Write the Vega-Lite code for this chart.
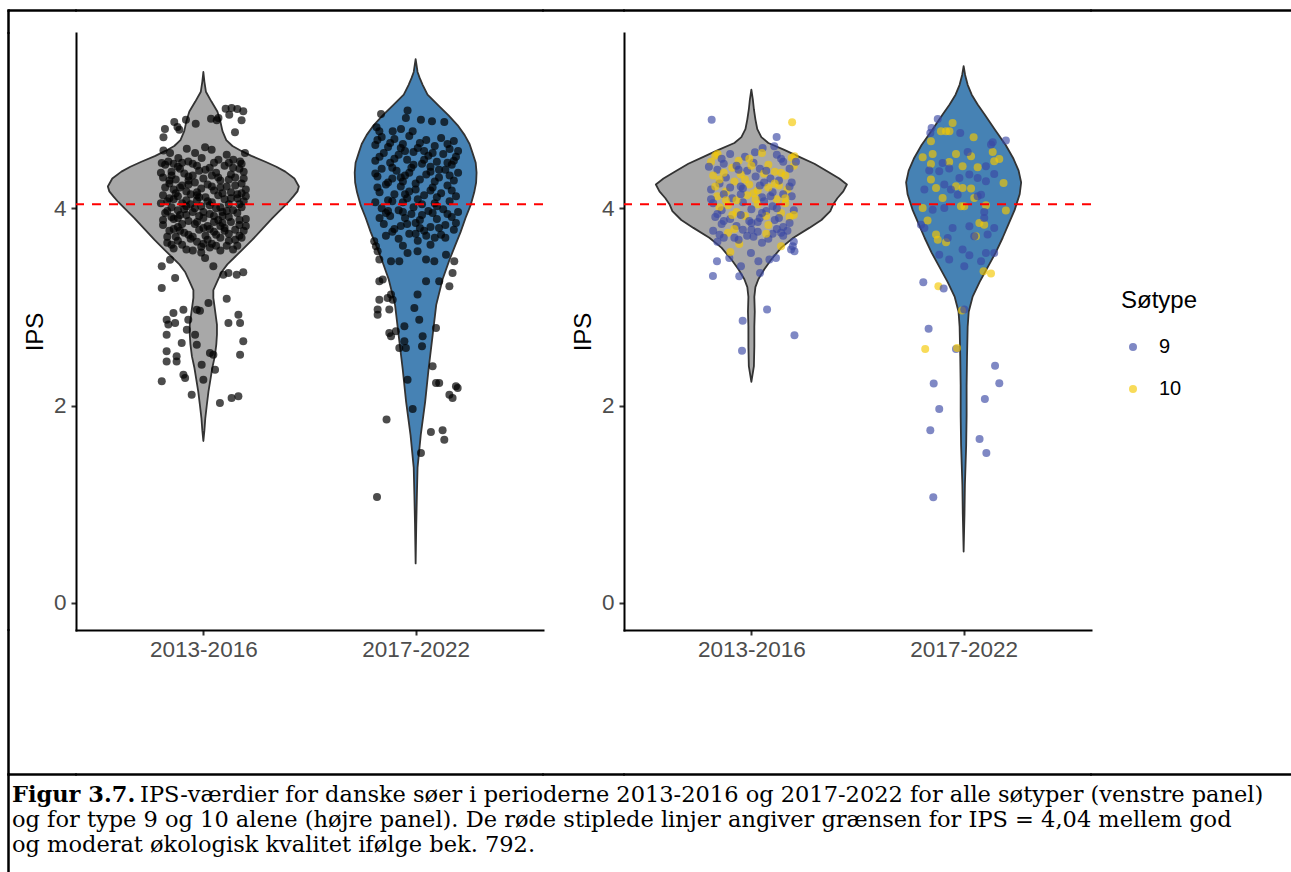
{
  "$schema": "https://vega.github.io/schema/vega-lite/v6.json",
  "background": "white",
  "padding": {"left": 7, "top": 9, "right": 0, "bottom": 0},
  "config": {
    "view": {"stroke": null},
    "font": "Liberation Sans",
    "axis": {
      "grid": false,
      "domainColor": "black",
      "domainWidth": 2,
      "domainCap": "square",
      "tickColor": "#333333",
      "tickWidth": 2,
      "tickSize": 5,
      "labelColor": "#4D4D4D",
      "labelFont": "Liberation Sans",
      "labelFontSize": 22.5,
      "labelFlush": false,
      "labelOverlap": false,
      "titleFont": "Liberation Sans",
      "titleFontSize": 24,
      "titleFontWeight": "normal",
      "titleColor": "black"
    },
    "title": {
      "font": "DejaVu Serif",
      "fontSize": 22.5,
      "color": "black",
      "subtitleFont": "DejaVu Serif",
      "subtitleFontSize": 22.5,
      "subtitleColor": "black",
      "subtitleLineHeight": 25
    }
  },
  "datasets": {
    "violiner": [
      {"panel": "alle", "periode": "2013-2016", "IPS": 5.38, "lo": 1, "hi": 1},
      {"panel": "alle", "periode": "2013-2016", "IPS": 5.28, "lo": 0.995, "hi": 1.005},
      {"panel": "alle", "periode": "2013-2016", "IPS": 5.18, "lo": 0.988, "hi": 1.012},
      {"panel": "alle", "periode": "2013-2016", "IPS": 5.08, "lo": 0.962, "hi": 1.038},
      {"panel": "alle", "periode": "2013-2016", "IPS": 4.98, "lo": 0.934, "hi": 1.066},
      {"panel": "alle", "periode": "2013-2016", "IPS": 4.88, "lo": 0.92, "hi": 1.08},
      {"panel": "alle", "periode": "2013-2016", "IPS": 4.78, "lo": 0.91, "hi": 1.09},
      {"panel": "alle", "periode": "2013-2016", "IPS": 4.69, "lo": 0.892, "hi": 1.108},
      {"panel": "alle", "periode": "2013-2016", "IPS": 4.63, "lo": 0.863, "hi": 1.137},
      {"panel": "alle", "periode": "2013-2016", "IPS": 4.58, "lo": 0.821, "hi": 1.179},
      {"panel": "alle", "periode": "2013-2016", "IPS": 4.53, "lo": 0.774, "hi": 1.226},
      {"panel": "alle", "periode": "2013-2016", "IPS": 4.47, "lo": 0.708, "hi": 1.292},
      {"panel": "alle", "periode": "2013-2016", "IPS": 4.42, "lo": 0.656, "hi": 1.344},
      {"panel": "alle", "periode": "2013-2016", "IPS": 4.37, "lo": 0.614, "hi": 1.386},
      {"panel": "alle", "periode": "2013-2016", "IPS": 4.30, "lo": 0.571, "hi": 1.429},
      {"panel": "alle", "periode": "2013-2016", "IPS": 4.22, "lo": 0.55, "hi": 1.45},
      {"panel": "alle", "periode": "2013-2016", "IPS": 4.17, "lo": 0.557, "hi": 1.443},
      {"panel": "alle", "periode": "2013-2016", "IPS": 4.12, "lo": 0.576, "hi": 1.424},
      {"panel": "alle", "periode": "2013-2016", "IPS": 4.06, "lo": 0.6, "hi": 1.4},
      {"panel": "alle", "periode": "2013-2016", "IPS": 4.00, "lo": 0.628, "hi": 1.372},
      {"panel": "alle", "periode": "2013-2016", "IPS": 3.90, "lo": 0.675, "hi": 1.325},
      {"panel": "alle", "periode": "2013-2016", "IPS": 3.79, "lo": 0.722, "hi": 1.278},
      {"panel": "alle", "periode": "2013-2016", "IPS": 3.68, "lo": 0.769, "hi": 1.231},
      {"panel": "alle", "periode": "2013-2016", "IPS": 3.58, "lo": 0.816, "hi": 1.184},
      {"panel": "alle", "periode": "2013-2016", "IPS": 3.50, "lo": 0.854, "hi": 1.146},
      {"panel": "alle", "periode": "2013-2016", "IPS": 3.43, "lo": 0.887, "hi": 1.113},
      {"panel": "alle", "periode": "2013-2016", "IPS": 3.35, "lo": 0.915, "hi": 1.085},
      {"panel": "alle", "periode": "2013-2016", "IPS": 3.26, "lo": 0.934, "hi": 1.066},
      {"panel": "alle", "periode": "2013-2016", "IPS": 3.17, "lo": 0.953, "hi": 1.047},
      {"panel": "alle", "periode": "2013-2016", "IPS": 3.09, "lo": 0.953, "hi": 1.047},
      {"panel": "alle", "periode": "2013-2016", "IPS": 2.95, "lo": 0.944, "hi": 1.056},
      {"panel": "alle", "periode": "2013-2016", "IPS": 2.82, "lo": 0.936, "hi": 1.064},
      {"panel": "alle", "periode": "2013-2016", "IPS": 2.72, "lo": 0.936, "hi": 1.064},
      {"panel": "alle", "periode": "2013-2016", "IPS": 2.62, "lo": 0.939, "hi": 1.061},
      {"panel": "alle", "periode": "2013-2016", "IPS": 2.50, "lo": 0.946, "hi": 1.054},
      {"panel": "alle", "periode": "2013-2016", "IPS": 2.38, "lo": 0.958, "hi": 1.042},
      {"panel": "alle", "periode": "2013-2016", "IPS": 2.26, "lo": 0.967, "hi": 1.033},
      {"panel": "alle", "periode": "2013-2016", "IPS": 2.14, "lo": 0.976, "hi": 1.024},
      {"panel": "alle", "periode": "2013-2016", "IPS": 2.00, "lo": 0.984, "hi": 1.016},
      {"panel": "alle", "periode": "2013-2016", "IPS": 1.87, "lo": 0.991, "hi": 1.009},
      {"panel": "alle", "periode": "2013-2016", "IPS": 1.75, "lo": 0.995, "hi": 1.005},
      {"panel": "alle", "periode": "2013-2016", "IPS": 1.64, "lo": 1, "hi": 1},

      {"panel": "alle", "periode": "2017-2022", "IPS": 5.51, "lo": 2, "hi": 2},
      {"panel": "alle", "periode": "2017-2022", "IPS": 5.44, "lo": 1.995, "hi": 2.005},
      {"panel": "alle", "periode": "2017-2022", "IPS": 5.38, "lo": 1.991, "hi": 2.009},
      {"panel": "alle", "periode": "2017-2022", "IPS": 5.32, "lo": 1.981, "hi": 2.019},
      {"panel": "alle", "periode": "2017-2022", "IPS": 5.25, "lo": 1.967, "hi": 2.033},
      {"panel": "alle", "periode": "2017-2022", "IPS": 5.15, "lo": 1.944, "hi": 2.056},
      {"panel": "alle", "periode": "2017-2022", "IPS": 5.04, "lo": 1.892, "hi": 2.108},
      {"panel": "alle", "periode": "2017-2022", "IPS": 4.94, "lo": 1.845, "hi": 2.155},
      {"panel": "alle", "periode": "2017-2022", "IPS": 4.84, "lo": 1.802, "hi": 2.198},
      {"panel": "alle", "periode": "2017-2022", "IPS": 4.74, "lo": 1.769, "hi": 2.231},
      {"panel": "alle", "periode": "2017-2022", "IPS": 4.65, "lo": 1.746, "hi": 2.254},
      {"panel": "alle", "periode": "2017-2022", "IPS": 4.56, "lo": 1.732, "hi": 2.268},
      {"panel": "alle", "periode": "2017-2022", "IPS": 4.46, "lo": 1.717, "hi": 2.283},
      {"panel": "alle", "periode": "2017-2022", "IPS": 4.36, "lo": 1.713, "hi": 2.287},
      {"panel": "alle", "periode": "2017-2022", "IPS": 4.26, "lo": 1.715, "hi": 2.285},
      {"panel": "alle", "periode": "2017-2022", "IPS": 4.16, "lo": 1.724, "hi": 2.276},
      {"panel": "alle", "periode": "2017-2022", "IPS": 4.03, "lo": 1.741, "hi": 2.259},
      {"panel": "alle", "periode": "2017-2022", "IPS": 3.90, "lo": 1.765, "hi": 2.235},
      {"panel": "alle", "periode": "2017-2022", "IPS": 3.76, "lo": 1.788, "hi": 2.212},
      {"panel": "alle", "periode": "2017-2022", "IPS": 3.62, "lo": 1.814, "hi": 2.186},
      {"panel": "alle", "periode": "2017-2022", "IPS": 3.48, "lo": 1.84, "hi": 2.16},
      {"panel": "alle", "periode": "2017-2022", "IPS": 3.28, "lo": 1.873, "hi": 2.127},
      {"panel": "alle", "periode": "2017-2022", "IPS": 3.02, "lo": 1.903, "hi": 2.097},
      {"panel": "alle", "periode": "2017-2022", "IPS": 2.71, "lo": 1.92, "hi": 2.08},
      {"panel": "alle", "periode": "2017-2022", "IPS": 2.37, "lo": 1.939, "hi": 2.061},
      {"panel": "alle", "periode": "2017-2022", "IPS": 2.04, "lo": 1.955, "hi": 2.045},
      {"panel": "alle", "periode": "2017-2022", "IPS": 1.70, "lo": 1.976, "hi": 2.024},
      {"panel": "alle", "periode": "2017-2022", "IPS": 1.37, "lo": 1.991, "hi": 2.009},
      {"panel": "alle", "periode": "2017-2022", "IPS": 1.10, "lo": 1.994, "hi": 2.006},
      {"panel": "alle", "periode": "2017-2022", "IPS": 0.80, "lo": 1.997, "hi": 2.003},
      {"panel": "alle", "periode": "2017-2022", "IPS": 0.40, "lo": 2, "hi": 2},

      {"panel": "9og10", "periode": "2013-2016", "IPS": 5.20, "lo": 1, "hi": 1},
      {"panel": "9og10", "periode": "2013-2016", "IPS": 5.10, "lo": 0.993, "hi": 1.007},
      {"panel": "9og10", "periode": "2013-2016", "IPS": 5.00, "lo": 0.988, "hi": 1.012},
      {"panel": "9og10", "periode": "2013-2016", "IPS": 4.90, "lo": 0.981, "hi": 1.019},
      {"panel": "9og10", "periode": "2013-2016", "IPS": 4.80, "lo": 0.972, "hi": 1.028},
      {"panel": "9og10", "periode": "2013-2016", "IPS": 4.72, "lo": 0.953, "hi": 1.047},
      {"panel": "9og10", "periode": "2013-2016", "IPS": 4.66, "lo": 0.92, "hi": 1.08},
      {"panel": "9og10", "periode": "2013-2016", "IPS": 4.59, "lo": 0.845, "hi": 1.155},
      {"panel": "9og10", "periode": "2013-2016", "IPS": 4.52, "lo": 0.774, "hi": 1.226},
      {"panel": "9og10", "periode": "2013-2016", "IPS": 4.45, "lo": 0.703, "hi": 1.297},
      {"panel": "9og10", "periode": "2013-2016", "IPS": 4.38, "lo": 0.647, "hi": 1.353},
      {"panel": "9og10", "periode": "2013-2016", "IPS": 4.30, "lo": 0.586, "hi": 1.414},
      {"panel": "9og10", "periode": "2013-2016", "IPS": 4.24, "lo": 0.55, "hi": 1.45},
      {"panel": "9og10", "periode": "2013-2016", "IPS": 4.17, "lo": 0.567, "hi": 1.433},
      {"panel": "9og10", "periode": "2013-2016", "IPS": 4.10, "lo": 0.595, "hi": 1.405},
      {"panel": "9og10", "periode": "2013-2016", "IPS": 4.04, "lo": 0.614, "hi": 1.386},
      {"panel": "9og10", "periode": "2013-2016", "IPS": 3.97, "lo": 0.628, "hi": 1.372},
      {"panel": "9og10", "periode": "2013-2016", "IPS": 3.88, "lo": 0.67, "hi": 1.33},
      {"panel": "9og10", "periode": "2013-2016", "IPS": 3.80, "lo": 0.727, "hi": 1.273},
      {"panel": "9og10", "periode": "2013-2016", "IPS": 3.70, "lo": 0.802, "hi": 1.198},
      {"panel": "9og10", "periode": "2013-2016", "IPS": 3.60, "lo": 0.859, "hi": 1.141},
      {"panel": "9og10", "periode": "2013-2016", "IPS": 3.48, "lo": 0.906, "hi": 1.094},
      {"panel": "9og10", "periode": "2013-2016", "IPS": 3.38, "lo": 0.939, "hi": 1.061},
      {"panel": "9og10", "periode": "2013-2016", "IPS": 3.28, "lo": 0.967, "hi": 1.033},
      {"panel": "9og10", "periode": "2013-2016", "IPS": 3.20, "lo": 0.981, "hi": 1.019},
      {"panel": "9og10", "periode": "2013-2016", "IPS": 3.10, "lo": 0.986, "hi": 1.014},
      {"panel": "9og10", "periode": "2013-2016", "IPS": 2.95, "lo": 0.984, "hi": 1.016},
      {"panel": "9og10", "periode": "2013-2016", "IPS": 2.80, "lo": 0.986, "hi": 1.014},
      {"panel": "9og10", "periode": "2013-2016", "IPS": 2.60, "lo": 0.986, "hi": 1.014},
      {"panel": "9og10", "periode": "2013-2016", "IPS": 2.40, "lo": 0.988, "hi": 1.012},
      {"panel": "9og10", "periode": "2013-2016", "IPS": 2.24, "lo": 1, "hi": 1},

      {"panel": "9og10", "periode": "2017-2022", "IPS": 5.44, "lo": 2, "hi": 2},
      {"panel": "9og10", "periode": "2017-2022", "IPS": 5.35, "lo": 1.993, "hi": 2.007},
      {"panel": "9og10", "periode": "2017-2022", "IPS": 5.25, "lo": 1.981, "hi": 2.019},
      {"panel": "9og10", "periode": "2017-2022", "IPS": 5.15, "lo": 1.962, "hi": 2.038},
      {"panel": "9og10", "periode": "2017-2022", "IPS": 5.05, "lo": 1.934, "hi": 2.066},
      {"panel": "9og10", "periode": "2017-2022", "IPS": 4.95, "lo": 1.901, "hi": 2.099},
      {"panel": "9og10", "periode": "2017-2022", "IPS": 4.80, "lo": 1.854, "hi": 2.146},
      {"panel": "9og10", "periode": "2017-2022", "IPS": 4.64, "lo": 1.802, "hi": 2.198},
      {"panel": "9og10", "periode": "2017-2022", "IPS": 4.50, "lo": 1.765, "hi": 2.235},
      {"panel": "9og10", "periode": "2017-2022", "IPS": 4.38, "lo": 1.741, "hi": 2.259},
      {"panel": "9og10", "periode": "2017-2022", "IPS": 4.26, "lo": 1.729, "hi": 2.271},
      {"panel": "9og10", "periode": "2017-2022", "IPS": 4.14, "lo": 1.736, "hi": 2.264},
      {"panel": "9og10", "periode": "2017-2022", "IPS": 3.98, "lo": 1.76, "hi": 2.24},
      {"panel": "9og10", "periode": "2017-2022", "IPS": 3.84, "lo": 1.788, "hi": 2.212},
      {"panel": "9og10", "periode": "2017-2022", "IPS": 3.70, "lo": 1.816, "hi": 2.184},
      {"panel": "9og10", "periode": "2017-2022", "IPS": 3.55, "lo": 1.849, "hi": 2.151},
      {"panel": "9og10", "periode": "2017-2022", "IPS": 3.40, "lo": 1.887, "hi": 2.113},
      {"panel": "9og10", "periode": "2017-2022", "IPS": 3.25, "lo": 1.925, "hi": 2.075},
      {"panel": "9og10", "periode": "2017-2022", "IPS": 3.10, "lo": 1.958, "hi": 2.042},
      {"panel": "9og10", "periode": "2017-2022", "IPS": 2.95, "lo": 1.976, "hi": 2.024},
      {"panel": "9og10", "periode": "2017-2022", "IPS": 2.80, "lo": 1.981, "hi": 2.019},
      {"panel": "9og10", "periode": "2017-2022", "IPS": 2.50, "lo": 1.984, "hi": 2.016},
      {"panel": "9og10", "periode": "2017-2022", "IPS": 2.20, "lo": 1.986, "hi": 2.014},
      {"panel": "9og10", "periode": "2017-2022", "IPS": 1.90, "lo": 1.986, "hi": 2.014},
      {"panel": "9og10", "periode": "2017-2022", "IPS": 1.60, "lo": 1.988, "hi": 2.012},
      {"panel": "9og10", "periode": "2017-2022", "IPS": 1.40, "lo": 1.991, "hi": 2.009},
      {"panel": "9og10", "periode": "2017-2022", "IPS": 1.20, "lo": 1.994, "hi": 2.006},
      {"panel": "9og10", "periode": "2017-2022", "IPS": 0.90, "lo": 1.996, "hi": 2.004},
      {"panel": "9og10", "periode": "2017-2022", "IPS": 0.52, "lo": 2, "hi": 2}
    ],
    "punkter_alle": [
      {"x": 1.105, "IPS": 5.008}, {"x": 1.133, "IPS": 5.015}, {"x": 1.16, "IPS": 5.005}, {"x": 1.188, "IPS": 4.981},
      {"x": 1.122, "IPS": 4.947}, {"x": 1.18, "IPS": 4.89}, {"x": 1.036, "IPS": 4.907}, {"x": 1.063, "IPS": 4.89},
      {"x": 0.863, "IPS": 4.873}, {"x": 0.878, "IPS": 4.822}, {"x": 0.887, "IPS": 4.795}, {"x": 0.964, "IPS": 4.856},
      {"x": 0.918, "IPS": 4.897}, {"x": 0.819, "IPS": 4.802}, {"x": 0.812, "IPS": 4.718}, {"x": 1.149, "IPS": 4.768},
      {"x": 1.071, "IPS": 4.914}, {"x": 0.812, "IPS": 4.583}, {"x": 0.843, "IPS": 4.559}, {"x": 0.922, "IPS": 4.603},
      {"x": 0.961, "IPS": 4.559}, {"x": 1.008, "IPS": 4.616}, {"x": 1.039, "IPS": 4.593}, {"x": 1.141, "IPS": 4.491},
      {"x": 1.173, "IPS": 4.474}, {"x": 1.196, "IPS": 4.559}, {"x": 0.804, "IPS": 4.458}, {"x": 0.835, "IPS": 4.474},
      {"x": 0.882, "IPS": 4.508}, {"x": 0.929, "IPS": 4.474}, {"x": 0.992, "IPS": 4.508}, {"x": 1.071, "IPS": 4.491},
      {"x": 1.11, "IPS": 4.542},
      {"x": 0.82, "IPS": 4.44}, {"x": 0.88, "IPS": 4.42}, {"x": 0.95, "IPS": 4.45}, {"x": 1.03, "IPS": 4.41}, {"x": 1.10, "IPS": 4.43}, {"x": 1.17, "IPS": 4.40},
      {"x": 0.85, "IPS": 4.37}, {"x": 0.91, "IPS": 4.35}, {"x": 0.98, "IPS": 4.38}, {"x": 1.06, "IPS": 4.36}, {"x": 1.13, "IPS": 4.34}, {"x": 1.19, "IPS": 4.37},
      {"x": 0.81, "IPS": 4.31}, {"x": 0.87, "IPS": 4.29}, {"x": 0.93, "IPS": 4.32}, {"x": 1.00, "IPS": 4.30}, {"x": 1.08, "IPS": 4.28}, {"x": 1.15, "IPS": 4.31},
      {"x": 0.84, "IPS": 4.25}, {"x": 0.90, "IPS": 4.23}, {"x": 0.96, "IPS": 4.26}, {"x": 1.02, "IPS": 4.24}, {"x": 1.11, "IPS": 4.22}, {"x": 1.18, "IPS": 4.25},
      {"x": 0.86, "IPS": 4.19}, {"x": 0.92, "IPS": 4.17}, {"x": 0.99, "IPS": 4.20}, {"x": 1.05, "IPS": 4.18}, {"x": 1.13, "IPS": 4.16}, {"x": 1.20, "IPS": 4.19},
      {"x": 0.81, "IPS": 4.13}, {"x": 0.88, "IPS": 4.12}, {"x": 0.94, "IPS": 4.14}, {"x": 1.01, "IPS": 4.11}, {"x": 1.07, "IPS": 4.13}, {"x": 1.16, "IPS": 4.10},
      {"x": 0.83, "IPS": 4.07}, {"x": 0.90, "IPS": 4.05}, {"x": 0.97, "IPS": 4.08}, {"x": 1.04, "IPS": 4.06}, {"x": 1.12, "IPS": 4.04}, {"x": 1.19, "IPS": 4.07},
      {"x": 0.85, "IPS": 4.01}, {"x": 0.91, "IPS": 3.99}, {"x": 0.99, "IPS": 4.02}, {"x": 1.06, "IPS": 4.00}, {"x": 1.14, "IPS": 3.98}, {"x": 1.18, "IPS": 4.01},
      {"x": 0.82, "IPS": 3.95}, {"x": 0.89, "IPS": 3.93}, {"x": 0.95, "IPS": 3.96}, {"x": 1.03, "IPS": 3.94}, {"x": 1.09, "IPS": 3.92}, {"x": 1.16, "IPS": 3.95},
      {"x": 0.86, "IPS": 3.89}, {"x": 0.93, "IPS": 3.87}, {"x": 1.00, "IPS": 3.90}, {"x": 1.07, "IPS": 3.88}, {"x": 1.13, "IPS": 3.86}, {"x": 1.20, "IPS": 3.89},
      {"x": 0.81, "IPS": 3.83}, {"x": 0.88, "IPS": 3.81}, {"x": 0.96, "IPS": 3.84}, {"x": 1.02, "IPS": 3.82}, {"x": 1.10, "IPS": 3.80}, {"x": 1.17, "IPS": 3.83},
      {"x": 0.84, "IPS": 3.77}, {"x": 0.91, "IPS": 3.75}, {"x": 0.98, "IPS": 3.78}, {"x": 1.05, "IPS": 3.76}, {"x": 1.12, "IPS": 3.74}, {"x": 1.19, "IPS": 3.77},
      {"x": 0.87, "IPS": 3.71}, {"x": 0.94, "IPS": 3.69}, {"x": 1.01, "IPS": 3.72}, {"x": 1.08, "IPS": 3.70}, {"x": 1.15, "IPS": 3.68},
      {"x": 0.83, "IPS": 3.65}, {"x": 0.90, "IPS": 3.63}, {"x": 0.97, "IPS": 3.66}, {"x": 1.04, "IPS": 3.64}, {"x": 1.11, "IPS": 3.62},
      {"x": 0.86, "IPS": 3.59}, {"x": 0.95, "IPS": 3.57}, {"x": 1.03, "IPS": 3.60}, {"x": 1.14, "IPS": 3.58},
      {"x": 0.85, "IPS": 4.33}, {"x": 0.93, "IPS": 4.28}, {"x": 1.04, "IPS": 4.33}, {"x": 1.12, "IPS": 4.29}, {"x": 0.89, "IPS": 4.21},
      {"x": 0.97, "IPS": 4.16}, {"x": 1.08, "IPS": 4.21}, {"x": 1.16, "IPS": 4.14}, {"x": 0.84, "IPS": 4.10}, {"x": 0.92, "IPS": 4.08},
      {"x": 1.03, "IPS": 4.03}, {"x": 1.10, "IPS": 4.09}, {"x": 0.88, "IPS": 3.98}, {"x": 0.96, "IPS": 4.00}, {"x": 1.09, "IPS": 3.96},
      {"x": 1.17, "IPS": 4.04}, {"x": 0.85, "IPS": 3.91}, {"x": 0.98, "IPS": 3.92}, {"x": 1.05, "IPS": 3.86}, {"x": 1.12, "IPS": 3.91},
      {"x": 0.90, "IPS": 3.84}, {"x": 1.00, "IPS": 3.80}, {"x": 1.08, "IPS": 3.82}, {"x": 0.93, "IPS": 3.73}, {"x": 1.02, "IPS": 3.68},
      {"x": 1.10, "IPS": 3.77}, {"x": 0.88, "IPS": 3.67}, {"x": 1.17, "IPS": 3.72}, {"x": 1.06, "IPS": 3.62}, {"x": 0.99, "IPS": 3.55},
      {"x": 0.80, "IPS": 4.36}, {"x": 0.84, "IPS": 4.28}, {"x": 0.89, "IPS": 4.40}, {"x": 0.95, "IPS": 4.33}, {"x": 1.01, "IPS": 4.39}, {"x": 1.07, "IPS": 4.31}, {"x": 1.14, "IPS": 4.41}, {"x": 1.19, "IPS": 4.30},
      {"x": 0.82, "IPS": 4.21}, {"x": 0.87, "IPS": 4.15}, {"x": 0.93, "IPS": 4.24}, {"x": 0.98, "IPS": 4.11}, {"x": 1.04, "IPS": 4.22}, {"x": 1.09, "IPS": 4.15}, {"x": 1.15, "IPS": 4.23}, {"x": 1.20, "IPS": 4.12},
      {"x": 0.80, "IPS": 4.05}, {"x": 0.86, "IPS": 4.09}, {"x": 0.92, "IPS": 4.02}, {"x": 0.97, "IPS": 4.13}, {"x": 1.02, "IPS": 4.07}, {"x": 1.08, "IPS": 4.01}, {"x": 1.13, "IPS": 4.10}, {"x": 1.18, "IPS": 4.15},
      {"x": 0.83, "IPS": 3.97}, {"x": 0.88, "IPS": 3.90}, {"x": 0.94, "IPS": 4.04}, {"x": 1.00, "IPS": 3.96}, {"x": 1.05, "IPS": 3.92}, {"x": 1.11, "IPS": 3.97}, {"x": 1.17, "IPS": 3.88},
      {"x": 0.81, "IPS": 3.88}, {"x": 0.86, "IPS": 3.79}, {"x": 0.92, "IPS": 3.93}, {"x": 0.97, "IPS": 3.86}, {"x": 1.03, "IPS": 3.79}, {"x": 1.09, "IPS": 3.85}, {"x": 1.15, "IPS": 3.78}, {"x": 1.20, "IPS": 3.82},
      {"x": 0.83, "IPS": 3.71}, {"x": 0.89, "IPS": 3.77}, {"x": 0.95, "IPS": 3.71}, {"x": 1.00, "IPS": 3.64}, {"x": 1.06, "IPS": 3.73}, {"x": 1.12, "IPS": 3.67}, {"x": 1.18, "IPS": 3.70},
      {"x": 0.85, "IPS": 3.63}, {"x": 0.92, "IPS": 3.58}, {"x": 0.99, "IPS": 3.61}, {"x": 1.08, "IPS": 3.57}, {"x": 1.16, "IPS": 3.62},
      {"x": 0.90, "IPS": 4.46}, {"x": 0.97, "IPS": 4.43}, {"x": 1.05, "IPS": 4.46}, {"x": 1.12, "IPS": 4.46}, {"x": 0.86, "IPS": 4.45}, {"x": 1.18, "IPS": 4.45},
      {"x": 0.804, "IPS": 3.41}, {"x": 0.843, "IPS": 3.478}, {"x": 0.867, "IPS": 3.292}, {"x": 0.804, "IPS": 3.19},
      {"x": 1.008, "IPS": 3.495}, {"x": 1.047, "IPS": 3.41}, {"x": 1.094, "IPS": 3.326}, {"x": 1.118, "IPS": 3.343},
      {"x": 1.157, "IPS": 3.326}, {"x": 1.188, "IPS": 3.35}, {"x": 1.11, "IPS": 3.083}, {"x": 0.906, "IPS": 2.971},
      {"x": 0.859, "IPS": 2.937}, {"x": 0.827, "IPS": 2.87}, {"x": 0.835, "IPS": 2.82}, {"x": 0.867, "IPS": 2.836},
      {"x": 0.929, "IPS": 2.87}, {"x": 0.969, "IPS": 2.971}, {"x": 0.984, "IPS": 2.961}, {"x": 1.024, "IPS": 3.039},
      {"x": 1.118, "IPS": 2.836}, {"x": 1.165, "IPS": 2.92}, {"x": 1.173, "IPS": 2.836}, {"x": 0.827, "IPS": 2.718},
      {"x": 0.898, "IPS": 2.633}, {"x": 0.922, "IPS": 2.768}, {"x": 0.961, "IPS": 2.718}, {"x": 0.969, "IPS": 2.616},
      {"x": 1.188, "IPS": 2.65}, {"x": 0.827, "IPS": 2.549}, {"x": 0.827, "IPS": 2.447}, {"x": 0.874, "IPS": 2.498},
      {"x": 0.874, "IPS": 2.447}, {"x": 1.031, "IPS": 2.532}, {"x": 1.047, "IPS": 2.515}, {"x": 1.173, "IPS": 2.515},
      {"x": 0.906, "IPS": 2.312}, {"x": 0.914, "IPS": 2.279}, {"x": 0.804, "IPS": 2.245}, {"x": 1.055, "IPS": 2.363},
      {"x": 1.0, "IPS": 2.262}, {"x": 0.992, "IPS": 2.414}, {"x": 0.945, "IPS": 2.11}, {"x": 1.078, "IPS": 2.025},
      {"x": 1.133, "IPS": 2.076}, {"x": 1.165, "IPS": 2.093},

      {"x": 1.837, "IPS": 4.955}, {"x": 1.962, "IPS": 4.989}, {"x": 1.954, "IPS": 4.914}, {"x": 1.816, "IPS": 4.82},
      {"x": 1.829, "IPS": 4.779}, {"x": 2.025, "IPS": 4.897}, {"x": 2.077, "IPS": 4.88}, {"x": 2.135, "IPS": 4.874},
      {"x": 1.986, "IPS": 4.779}, {"x": 1.931, "IPS": 4.803}, {"x": 1.892, "IPS": 4.779},
      {"x": 1.84, "IPS": 4.72}, {"x": 1.90, "IPS": 4.70}, {"x": 1.97, "IPS": 4.73}, {"x": 2.05, "IPS": 4.69}, {"x": 2.12, "IPS": 4.71}, {"x": 2.18, "IPS": 4.68},
      {"x": 1.81, "IPS": 4.64}, {"x": 1.87, "IPS": 4.62}, {"x": 1.94, "IPS": 4.65}, {"x": 2.01, "IPS": 4.61}, {"x": 2.09, "IPS": 4.63}, {"x": 2.16, "IPS": 4.60},
      {"x": 1.85, "IPS": 4.56}, {"x": 1.92, "IPS": 4.54}, {"x": 1.99, "IPS": 4.57}, {"x": 2.06, "IPS": 4.53}, {"x": 2.13, "IPS": 4.55}, {"x": 2.19, "IPS": 4.52},
      {"x": 1.81, "IPS": 4.48}, {"x": 1.88, "IPS": 4.46}, {"x": 1.96, "IPS": 4.49}, {"x": 2.03, "IPS": 4.45}, {"x": 2.10, "IPS": 4.47}, {"x": 2.17, "IPS": 4.44},
      {"x": 1.84, "IPS": 4.40}, {"x": 1.91, "IPS": 4.38}, {"x": 1.98, "IPS": 4.41}, {"x": 2.07, "IPS": 4.37}, {"x": 2.14, "IPS": 4.39}, {"x": 2.20, "IPS": 4.36},
      {"x": 1.82, "IPS": 4.32}, {"x": 1.89, "IPS": 4.30}, {"x": 1.95, "IPS": 4.33}, {"x": 2.02, "IPS": 4.29}, {"x": 2.11, "IPS": 4.31}, {"x": 2.18, "IPS": 4.28},
      {"x": 1.86, "IPS": 4.24}, {"x": 1.93, "IPS": 4.22}, {"x": 2.00, "IPS": 4.25}, {"x": 2.08, "IPS": 4.21}, {"x": 2.15, "IPS": 4.23},
      {"x": 1.83, "IPS": 4.16}, {"x": 1.90, "IPS": 4.14}, {"x": 1.97, "IPS": 4.17}, {"x": 2.04, "IPS": 4.13}, {"x": 2.12, "IPS": 4.15}, {"x": 2.19, "IPS": 4.12},
      {"x": 1.87, "IPS": 4.08}, {"x": 1.94, "IPS": 4.06}, {"x": 2.01, "IPS": 4.09}, {"x": 2.09, "IPS": 4.05}, {"x": 2.16, "IPS": 4.07},
      {"x": 1.84, "IPS": 4.00}, {"x": 1.92, "IPS": 3.98}, {"x": 1.99, "IPS": 4.01}, {"x": 2.06, "IPS": 3.97}, {"x": 2.13, "IPS": 3.99}, {"x": 2.20, "IPS": 3.96},
      {"x": 1.88, "IPS": 3.92}, {"x": 1.95, "IPS": 3.90}, {"x": 2.03, "IPS": 3.93}, {"x": 2.10, "IPS": 3.89}, {"x": 2.17, "IPS": 3.91},
      {"x": 1.85, "IPS": 3.84}, {"x": 1.93, "IPS": 3.82}, {"x": 2.00, "IPS": 3.85}, {"x": 2.07, "IPS": 3.81}, {"x": 2.14, "IPS": 3.83},
      {"x": 1.89, "IPS": 3.76}, {"x": 1.97, "IPS": 3.74}, {"x": 2.04, "IPS": 3.77}, {"x": 2.12, "IPS": 3.73}, {"x": 2.18, "IPS": 3.78},
      {"x": 1.92, "IPS": 3.69}, {"x": 2.01, "IPS": 3.67}, {"x": 2.09, "IPS": 3.70},
      {"x": 1.93, "IPS": 4.61}, {"x": 2.04, "IPS": 4.58}, {"x": 1.99, "IPS": 4.44}, {"x": 2.07, "IPS": 4.42}, {"x": 1.94, "IPS": 4.27},
      {"x": 2.05, "IPS": 4.34}, {"x": 1.96, "IPS": 4.10}, {"x": 2.07, "IPS": 4.18}, {"x": 1.98, "IPS": 3.94}, {"x": 2.02, "IPS": 3.80},
      {"x": 1.90, "IPS": 4.50}, {"x": 2.15, "IPS": 4.46}, {"x": 2.10, "IPS": 4.02}, {"x": 1.86, "IPS": 3.95},
      {"x": 1.82, "IPS": 4.69}, {"x": 1.88, "IPS": 4.66}, {"x": 1.95, "IPS": 4.58}, {"x": 2.02, "IPS": 4.66}, {"x": 2.08, "IPS": 4.56}, {"x": 2.15, "IPS": 4.65}, {"x": 2.20, "IPS": 4.58},
      {"x": 1.83, "IPS": 4.52}, {"x": 1.89, "IPS": 4.41}, {"x": 1.97, "IPS": 4.36}, {"x": 2.04, "IPS": 4.49}, {"x": 2.11, "IPS": 4.39}, {"x": 2.18, "IPS": 4.48},
      {"x": 1.81, "IPS": 4.35}, {"x": 1.87, "IPS": 4.26}, {"x": 1.93, "IPS": 4.31}, {"x": 2.00, "IPS": 4.19}, {"x": 2.09, "IPS": 4.27}, {"x": 2.16, "IPS": 4.33},
      {"x": 1.82, "IPS": 4.21}, {"x": 1.89, "IPS": 4.07}, {"x": 1.95, "IPS": 4.14}, {"x": 2.03, "IPS": 4.04}, {"x": 2.10, "IPS": 4.11}, {"x": 2.17, "IPS": 4.18},
      {"x": 1.81, "IPS": 4.06}, {"x": 1.87, "IPS": 3.97}, {"x": 1.94, "IPS": 3.96}, {"x": 2.02, "IPS": 3.88}, {"x": 2.08, "IPS": 3.95}, {"x": 2.15, "IPS": 3.94},
      {"x": 1.83, "IPS": 3.90}, {"x": 1.90, "IPS": 3.79}, {"x": 1.96, "IPS": 3.84}, {"x": 2.05, "IPS": 3.72}, {"x": 2.11, "IPS": 3.80}, {"x": 2.19, "IPS": 3.85},
      {"x": 1.86, "IPS": 3.72}, {"x": 1.94, "IPS": 3.62}, {"x": 2.00, "IPS": 3.74}, {"x": 2.07, "IPS": 3.63}, {"x": 2.14, "IPS": 3.70},
      {"x": 1.805, "IPS": 3.664}, {"x": 1.821, "IPS": 3.563}, {"x": 1.829, "IPS": 3.479}, {"x": 1.813, "IPS": 3.614},
      {"x": 1.884, "IPS": 3.462}, {"x": 1.923, "IPS": 3.462}, {"x": 1.962, "IPS": 3.546}, {"x": 2.009, "IPS": 3.563},
      {"x": 2.049, "IPS": 3.479}, {"x": 2.088, "IPS": 3.462}, {"x": 2.143, "IPS": 3.529}, {"x": 2.182, "IPS": 3.462},
      {"x": 2.174, "IPS": 3.343}, {"x": 2.159, "IPS": 3.208}, {"x": 2.111, "IPS": 3.259}, {"x": 2.049, "IPS": 3.259},
      {"x": 2.009, "IPS": 3.124}, {"x": 1.829, "IPS": 3.259}, {"x": 1.845, "IPS": 3.276}, {"x": 1.829, "IPS": 3.073},
      {"x": 1.868, "IPS": 3.09}, {"x": 1.884, "IPS": 3.124}, {"x": 1.892, "IPS": 3.073}, {"x": 1.821, "IPS": 2.972},
      {"x": 1.821, "IPS": 2.921}, {"x": 1.876, "IPS": 2.972}, {"x": 1.994, "IPS": 2.989}, {"x": 2.017, "IPS": 2.87},
      {"x": 1.947, "IPS": 2.803}, {"x": 1.876, "IPS": 2.735}, {"x": 1.907, "IPS": 2.752}, {"x": 1.884, "IPS": 2.701},
      {"x": 1.923, "IPS": 2.583}, {"x": 1.947, "IPS": 2.651}, {"x": 1.954, "IPS": 2.583}, {"x": 2.033, "IPS": 2.701},
      {"x": 2.03, "IPS": 2.6}, {"x": 2.096, "IPS": 2.786}, {"x": 2.08, "IPS": 2.397}, {"x": 2.096, "IPS": 2.229},
      {"x": 2.111, "IPS": 2.229}, {"x": 2.159, "IPS": 2.11}, {"x": 2.174, "IPS": 2.077}, {"x": 2.19, "IPS": 2.195},
      {"x": 2.198, "IPS": 2.178}, {"x": 1.962, "IPS": 2.262}, {"x": 1.986, "IPS": 1.965}, {"x": 1.863, "IPS": 1.857},
      {"x": 2.072, "IPS": 1.732}, {"x": 2.127, "IPS": 1.749}, {"x": 2.135, "IPS": 1.654}, {"x": 2.025, "IPS": 1.519},
      {"x": 1.818, "IPS": 1.073}
    ],
    "punkter_9og10": [
      {"x": 0.813, "IPS": 4.897, "Søtype": 9}, {"x": 1.192, "IPS": 4.87, "Søtype": 10}, {"x": 1.119, "IPS": 4.722, "Søtype": 9},
      {"x": 1.108, "IPS": 4.627, "Søtype": 9}, {"x": 1.053, "IPS": 4.61, "Søtype": 9}, {"x": 1.017, "IPS": 4.566, "Søtype": 9},
      {"x": 0.841, "IPS": 4.55, "Søtype": 10}, {"x": 1.203, "IPS": 4.526, "Søtype": 10},
      {"x": 0.838, "IPS": 3.462, "Søtype": 9}, {"x": 0.819, "IPS": 3.313, "Søtype": 9}, {"x": 0.943, "IPS": 3.31, "Søtype": 9},
      {"x": 0.896, "IPS": 3.495, "Søtype": 9}, {"x": 0.901, "IPS": 3.556, "Søtype": 10}, {"x": 0.943, "IPS": 3.637, "Søtype": 10},
      {"x": 0.951, "IPS": 3.411, "Søtype": 9}, {"x": 1.041, "IPS": 3.343, "Søtype": 9}, {"x": 1.033, "IPS": 3.462, "Søtype": 9},
      {"x": 1.116, "IPS": 3.495, "Søtype": 9}, {"x": 1.14, "IPS": 3.614, "Søtype": 10}, {"x": 1.187, "IPS": 3.58, "Søtype": 9},
      {"x": 1.203, "IPS": 3.563, "Søtype": 9}, {"x": 1.195, "IPS": 3.614, "Søtype": 9}, {"x": 1.085, "IPS": 3.479, "Søtype": 9},
      {"x": 0.998, "IPS": 3.546, "Søtype": 9}, {"x": 1.074, "IPS": 2.972, "Søtype": 9}, {"x": 0.959, "IPS": 2.86, "Søtype": 9},
      {"x": 1.203, "IPS": 2.712, "Søtype": 9}, {"x": 0.956, "IPS": 2.556, "Søtype": 9},
      {"x": 0.83, "IPS": 4.53, "Søtype": 10}, {"x": 0.90, "IPS": 4.55, "Søtype": 9}, {"x": 0.97, "IPS": 4.52, "Søtype": 9}, {"x": 1.05, "IPS": 4.56, "Søtype": 10}, {"x": 1.12, "IPS": 4.54, "Søtype": 9}, {"x": 1.19, "IPS": 4.51, "Søtype": 10},
      {"x": 0.81, "IPS": 4.47, "Søtype": 10}, {"x": 0.87, "IPS": 4.45, "Søtype": 9}, {"x": 0.94, "IPS": 4.48, "Søtype": 10}, {"x": 1.01, "IPS": 4.46, "Søtype": 9}, {"x": 1.08, "IPS": 4.44, "Søtype": 10}, {"x": 1.15, "IPS": 4.47, "Søtype": 9}, {"x": 1.20, "IPS": 4.43, "Søtype": 10},
      {"x": 0.84, "IPS": 4.39, "Søtype": 9}, {"x": 0.91, "IPS": 4.41, "Søtype": 10}, {"x": 0.98, "IPS": 4.38, "Søtype": 9}, {"x": 1.04, "IPS": 4.40, "Søtype": 9}, {"x": 1.11, "IPS": 4.37, "Søtype": 10}, {"x": 1.18, "IPS": 4.40, "Søtype": 9},
      {"x": 0.82, "IPS": 4.33, "Søtype": 10}, {"x": 0.88, "IPS": 4.31, "Søtype": 9}, {"x": 0.95, "IPS": 4.34, "Søtype": 10}, {"x": 1.02, "IPS": 4.32, "Søtype": 9}, {"x": 1.09, "IPS": 4.30, "Søtype": 9}, {"x": 1.16, "IPS": 4.33, "Søtype": 10},
      {"x": 0.85, "IPS": 4.25, "Søtype": 9}, {"x": 0.92, "IPS": 4.27, "Søtype": 10}, {"x": 0.99, "IPS": 4.24, "Søtype": 10}, {"x": 1.06, "IPS": 4.26, "Søtype": 9}, {"x": 1.13, "IPS": 4.23, "Søtype": 10}, {"x": 1.19, "IPS": 4.26, "Søtype": 9},
      {"x": 0.81, "IPS": 4.19, "Søtype": 9}, {"x": 0.88, "IPS": 4.17, "Søtype": 10}, {"x": 0.96, "IPS": 4.20, "Søtype": 9}, {"x": 1.03, "IPS": 4.18, "Søtype": 10}, {"x": 1.10, "IPS": 4.16, "Søtype": 9}, {"x": 1.17, "IPS": 4.19, "Søtype": 10},
      {"x": 0.84, "IPS": 4.12, "Søtype": 10}, {"x": 0.91, "IPS": 4.10, "Søtype": 9}, {"x": 0.98, "IPS": 4.13, "Søtype": 10}, {"x": 1.05, "IPS": 4.11, "Søtype": 9}, {"x": 1.12, "IPS": 4.09, "Søtype": 10}, {"x": 1.19, "IPS": 4.12, "Søtype": 9},
      {"x": 0.82, "IPS": 4.05, "Søtype": 9}, {"x": 0.89, "IPS": 4.03, "Søtype": 10}, {"x": 0.96, "IPS": 4.06, "Søtype": 9}, {"x": 1.03, "IPS": 4.04, "Søtype": 10}, {"x": 1.10, "IPS": 4.02, "Søtype": 9}, {"x": 1.16, "IPS": 4.05, "Søtype": 10},
      {"x": 0.86, "IPS": 3.98, "Søtype": 9}, {"x": 0.93, "IPS": 3.96, "Søtype": 10}, {"x": 1.00, "IPS": 3.99, "Søtype": 9}, {"x": 1.07, "IPS": 3.97, "Søtype": 9}, {"x": 1.14, "IPS": 3.95, "Søtype": 10}, {"x": 1.20, "IPS": 3.98, "Søtype": 9},
      {"x": 0.83, "IPS": 3.91, "Søtype": 9}, {"x": 0.90, "IPS": 3.89, "Søtype": 9}, {"x": 0.97, "IPS": 3.92, "Søtype": 10}, {"x": 1.04, "IPS": 3.90, "Søtype": 9}, {"x": 1.11, "IPS": 3.88, "Søtype": 9}, {"x": 1.18, "IPS": 3.91, "Søtype": 10},
      {"x": 0.86, "IPS": 3.84, "Søtype": 9}, {"x": 0.93, "IPS": 3.82, "Søtype": 9}, {"x": 1.00, "IPS": 3.85, "Søtype": 9}, {"x": 1.08, "IPS": 3.83, "Søtype": 10}, {"x": 1.15, "IPS": 3.81, "Søtype": 9},
      {"x": 0.82, "IPS": 3.77, "Søtype": 9}, {"x": 0.89, "IPS": 3.75, "Søtype": 10}, {"x": 0.96, "IPS": 3.78, "Søtype": 9}, {"x": 1.03, "IPS": 3.76, "Søtype": 9}, {"x": 1.10, "IPS": 3.74, "Søtype": 9}, {"x": 1.17, "IPS": 3.77, "Søtype": 9},
      {"x": 0.87, "IPS": 3.70, "Søtype": 9}, {"x": 0.94, "IPS": 3.68, "Søtype": 9}, {"x": 1.01, "IPS": 3.71, "Søtype": 9}, {"x": 1.08, "IPS": 3.69, "Søtype": 9}, {"x": 1.15, "IPS": 3.72, "Søtype": 9},
      {"x": 0.86, "IPS": 4.50, "Søtype": 9}, {"x": 0.99, "IPS": 4.50, "Søtype": 10}, {"x": 1.14, "IPS": 4.50, "Søtype": 9}, {"x": 0.93, "IPS": 4.43, "Søtype": 9},
      {"x": 1.06, "IPS": 4.35, "Søtype": 10}, {"x": 0.85, "IPS": 4.29, "Søtype": 10}, {"x": 1.13, "IPS": 4.28, "Søtype": 9}, {"x": 0.95, "IPS": 4.22, "Søtype": 9},
      {"x": 1.08, "IPS": 4.21, "Søtype": 10}, {"x": 0.87, "IPS": 4.14, "Søtype": 9}, {"x": 1.01, "IPS": 4.15, "Søtype": 10}, {"x": 1.15, "IPS": 4.14, "Søtype": 9},
      {"x": 0.93, "IPS": 4.08, "Søtype": 10}, {"x": 1.06, "IPS": 4.07, "Søtype": 9}, {"x": 0.85, "IPS": 4.01, "Søtype": 10}, {"x": 1.12, "IPS": 4.00, "Søtype": 9},
      {"x": 0.95, "IPS": 3.93, "Søtype": 9}, {"x": 1.07, "IPS": 3.92, "Søtype": 10}, {"x": 0.87, "IPS": 3.87, "Søtype": 9}, {"x": 1.03, "IPS": 3.86, "Søtype": 9},
      {"x": 1.18, "IPS": 3.85, "Søtype": 9}, {"x": 0.92, "IPS": 3.79, "Søtype": 10}, {"x": 1.12, "IPS": 3.79, "Søtype": 9}, {"x": 0.98, "IPS": 3.72, "Søtype": 9},
      {"x": 0.84, "IPS": 3.66, "Søtype": 9}, {"x": 1.05, "IPS": 3.65, "Søtype": 9}, {"x": 1.20, "IPS": 3.66, "Søtype": 9},
      {"x": 0.80, "IPS": 4.42, "Søtype": 9}, {"x": 0.87, "IPS": 4.36, "Søtype": 10}, {"x": 0.94, "IPS": 4.39, "Søtype": 9}, {"x": 1.00, "IPS": 4.43, "Søtype": 10}, {"x": 1.07, "IPS": 4.38, "Søtype": 9}, {"x": 1.14, "IPS": 4.36, "Søtype": 10}, {"x": 1.21, "IPS": 4.47, "Søtype": 9},
      {"x": 0.83, "IPS": 4.22, "Søtype": 10}, {"x": 0.90, "IPS": 4.21, "Søtype": 9}, {"x": 0.97, "IPS": 4.29, "Søtype": 10}, {"x": 1.04, "IPS": 4.23, "Søtype": 9}, {"x": 1.11, "IPS": 4.25, "Søtype": 10}, {"x": 1.18, "IPS": 4.22, "Søtype": 9},
      {"x": 0.81, "IPS": 4.09, "Søtype": 9}, {"x": 0.88, "IPS": 4.08, "Søtype": 10}, {"x": 0.95, "IPS": 4.14, "Søtype": 9}, {"x": 1.02, "IPS": 4.09, "Søtype": 10}, {"x": 1.09, "IPS": 4.12, "Søtype": 9}, {"x": 1.16, "IPS": 4.10, "Søtype": 10},
      {"x": 0.84, "IPS": 3.94, "Søtype": 9}, {"x": 0.91, "IPS": 3.93, "Søtype": 10}, {"x": 0.99, "IPS": 3.87, "Søtype": 9}, {"x": 1.05, "IPS": 3.95, "Søtype": 9}, {"x": 1.13, "IPS": 3.90, "Søtype": 9}, {"x": 1.20, "IPS": 3.93, "Søtype": 10},
      {"x": 0.85, "IPS": 3.73, "Søtype": 9}, {"x": 0.92, "IPS": 3.70, "Søtype": 9}, {"x": 1.00, "IPS": 3.78, "Søtype": 9}, {"x": 1.07, "IPS": 3.74, "Søtype": 10}, {"x": 1.14, "IPS": 3.75, "Søtype": 9},

      {"x": 1.81, "IPS": 3.249, "Søtype": 9}, {"x": 1.881, "IPS": 3.208, "Søtype": 10}, {"x": 1.906, "IPS": 3.185, "Søtype": 9},
      {"x": 1.835, "IPS": 2.779, "Søtype": 9}, {"x": 1.819, "IPS": 2.573, "Søtype": 10}, {"x": 1.964, "IPS": 2.573, "Søtype": 9},
      {"x": 1.969, "IPS": 2.583, "Søtype": 10}, {"x": 1.992, "IPS": 2.962, "Søtype": 10}, {"x": 2.003, "IPS": 2.972, "Søtype": 9},
      {"x": 2.148, "IPS": 2.404, "Søtype": 9}, {"x": 2.168, "IPS": 2.225, "Søtype": 9}, {"x": 2.1, "IPS": 2.066, "Søtype": 9},
      {"x": 1.859, "IPS": 2.222, "Søtype": 9}, {"x": 1.885, "IPS": 1.965, "Søtype": 9}, {"x": 1.843, "IPS": 1.749, "Søtype": 9},
      {"x": 2.075, "IPS": 1.661, "Søtype": 9}, {"x": 2.107, "IPS": 1.519, "Søtype": 9}, {"x": 1.857, "IPS": 1.07, "Søtype": 9},
      {"x": 2.094, "IPS": 3.36, "Søtype": 10}, {"x": 2.129, "IPS": 3.337, "Søtype": 10},
      {"x": 1.878, "IPS": 4.904, "Søtype": 9}, {"x": 1.849, "IPS": 4.813, "Søtype": 9}, {"x": 1.843, "IPS": 4.762, "Søtype": 9},
      {"x": 1.948, "IPS": 4.864, "Søtype": 10}, {"x": 1.917, "IPS": 4.779, "Søtype": 10}, {"x": 1.933, "IPS": 4.779, "Søtype": 10},
      {"x": 1.893, "IPS": 4.779, "Søtype": 10}, {"x": 1.984, "IPS": 4.762, "Søtype": 9}, {"x": 1.846, "IPS": 4.678, "Søtype": 10},
      {"x": 2.199, "IPS": 4.685, "Søtype": 9}, {"x": 2.047, "IPS": 4.718, "Søtype": 10}, {"x": 2.137, "IPS": 4.668, "Søtype": 9},
      {"x": 1.807, "IPS": 4.516, "Søtype": 10}, {"x": 1.854, "IPS": 4.55, "Søtype": 10}, {"x": 1.846, "IPS": 4.448, "Søtype": 10},
      {"x": 1.932, "IPS": 4.468, "Søtype": 10}, {"x": 1.995, "IPS": 4.425, "Søtype": 10}, {"x": 1.964, "IPS": 4.55, "Søtype": 10},
      {"x": 2.035, "IPS": 4.526, "Søtype": 10}, {"x": 2.066, "IPS": 4.414, "Søtype": 10}, {"x": 2.137, "IPS": 4.57, "Søtype": 10},
      {"x": 2.144, "IPS": 4.475, "Søtype": 10}, {"x": 2.168, "IPS": 4.499, "Søtype": 10}, {"x": 2.188, "IPS": 4.256, "Søtype": 10},
      {"x": 1.846, "IPS": 4.29, "Søtype": 10}, {"x": 1.87, "IPS": 4.205, "Søtype": 10}, {"x": 1.964, "IPS": 4.222, "Søtype": 10},
      {"x": 1.995, "IPS": 4.205, "Søtype": 10}, {"x": 2.035, "IPS": 4.198, "Søtype": 10}, {"x": 2.05, "IPS": 4.104, "Søtype": 10},
      {"x": 1.901, "IPS": 4.104, "Søtype": 10}, {"x": 1.987, "IPS": 4.019, "Søtype": 10}, {"x": 2.003, "IPS": 4.019, "Søtype": 10},
      {"x": 2.105, "IPS": 4.029, "Søtype": 10}, {"x": 2.199, "IPS": 3.975, "Søtype": 10}, {"x": 1.807, "IPS": 4.002, "Søtype": 10},
      {"x": 1.83, "IPS": 3.874, "Søtype": 10}, {"x": 1.87, "IPS": 3.732, "Søtype": 10}, {"x": 1.878, "IPS": 3.681, "Søtype": 10},
      {"x": 1.917, "IPS": 3.654, "Søtype": 10}, {"x": 2.074, "IPS": 3.85, "Søtype": 10}, {"x": 2.097, "IPS": 3.833, "Søtype": 10},
      {"x": 2.058, "IPS": 3.715, "Søtype": 10},
      {"x": 1.815, "IPS": 4.188, "Søtype": 9}, {"x": 1.838, "IPS": 4.381, "Søtype": 9}, {"x": 1.885, "IPS": 4.374, "Søtype": 9},
      {"x": 1.901, "IPS": 4.458, "Søtype": 9}, {"x": 1.932, "IPS": 4.401, "Søtype": 9}, {"x": 2.019, "IPS": 4.57, "Søtype": 9},
      {"x": 2.027, "IPS": 4.34, "Søtype": 9}, {"x": 2.066, "IPS": 4.306, "Søtype": 9}, {"x": 2.105, "IPS": 4.272, "Søtype": 9},
      {"x": 2.144, "IPS": 4.347, "Søtype": 9}, {"x": 2.105, "IPS": 4.425, "Søtype": 9}, {"x": 2.129, "IPS": 4.644, "Søtype": 9},
      {"x": 1.909, "IPS": 4.239, "Søtype": 9}, {"x": 1.94, "IPS": 4.188, "Søtype": 9}, {"x": 1.972, "IPS": 4.137, "Søtype": 9},
      {"x": 2.082, "IPS": 4.137, "Søtype": 9}, {"x": 2.066, "IPS": 4.12, "Søtype": 9}, {"x": 1.854, "IPS": 3.985, "Søtype": 9},
      {"x": 1.909, "IPS": 4.002, "Søtype": 9}, {"x": 2.097, "IPS": 3.962, "Søtype": 9}, {"x": 2.097, "IPS": 3.901, "Søtype": 9},
      {"x": 2.144, "IPS": 3.8, "Søtype": 9}, {"x": 2.027, "IPS": 3.816, "Søtype": 9}, {"x": 1.948, "IPS": 3.8, "Søtype": 9},
      {"x": 2.05, "IPS": 3.715, "Søtype": 9}, {"x": 2.113, "IPS": 3.732, "Søtype": 9}, {"x": 1.925, "IPS": 3.698, "Søtype": 9},
      {"x": 1.995, "IPS": 3.58, "Søtype": 9}, {"x": 2.027, "IPS": 3.523, "Søtype": 9}, {"x": 2.144, "IPS": 3.546, "Søtype": 9},
      {"x": 1.885, "IPS": 3.529, "Søtype": 9}, {"x": 1.932, "IPS": 3.479, "Søtype": 9}, {"x": 2.003, "IPS": 3.411, "Søtype": 9},
      {"x": 2.082, "IPS": 3.462, "Søtype": 9}, {"x": 2.105, "IPS": 3.546, "Søtype": 9}, {"x": 1.815, "IPS": 3.8, "Søtype": 9},
      {"x": 1.799, "IPS": 3.833, "Søtype": 9}, {"x": 1.98, "IPS": 4.306, "Søtype": 9}
    ]
  },
  "columns": 6,
  "spacing": 0,
  "bounds": "flush",
  "align": "each",
  "concat": [
    {"width": 1, "height": 1, "data": {"values": []}, "mark": "point", "encoding": {}, "view": {"stroke": "black", "strokeWidth": 1.5}},
    {"width": 67, "height": 1, "data": {"values": []}, "mark": "point", "encoding": {}, "view": {"stroke": "black", "strokeWidth": 1.5}},
    {"width": 467, "height": 1, "data": {"values": []}, "mark": "point", "encoding": {}, "view": {"stroke": "black", "strokeWidth": 1.5}},
    {"width": 81, "height": 1, "data": {"values": []}, "mark": "point", "encoding": {}, "view": {"stroke": "black", "strokeWidth": 1.5}},
    {"width": 467, "height": 1, "data": {"values": []}, "mark": "point", "encoding": {}, "view": {"stroke": "black", "strokeWidth": 1.5}},
    {"width": 200, "height": 1, "data": {"values": []}, "mark": "point", "encoding": {}, "view": {"stroke": "black", "strokeWidth": 1.5}},

    {"width": 1, "height": 22, "data": {"values": []}, "mark": "point", "encoding": {}, "view": {"stroke": "black", "strokeWidth": 1.5}},
    {"width": 67, "height": 22, "data": {"values": []}, "mark": "point", "encoding": {}},
    {"width": 467, "height": 22, "data": {"values": []}, "mark": "point", "encoding": {}},
    {"width": 81, "height": 22, "data": {"values": []}, "mark": "point", "encoding": {}},
    {"width": 467, "height": 22, "data": {"values": []}, "mark": "point", "encoding": {}},
    {"width": 200, "height": 22, "data": {"values": []}, "mark": "point", "encoding": {}},

    {"width": 1, "height": 597, "data": {"values": []}, "mark": "point", "encoding": {}, "view": {"stroke": "black", "strokeWidth": 1.5}},
    {"width": 67, "height": 597, "data": {"values": []}, "mark": "point", "encoding": {}},
    {
      "width": 467,
      "height": 597,
      "layer": [
        {
          "data": {"name": "violiner"},
          "transform": [{"filter": {"field": "panel", "equal": "alle"}}],
          "mark": {"type": "area", "orient": "horizontal", "stroke": "#333333", "strokeWidth": 1.8, "strokeJoin": "round"},
          "encoding": {
            "y": {"field": "IPS", "type": "quantitative", "title": "IPS",
                  "scale": {"domain": [-0.275, 5.775], "nice": false, "zero": false},
                  "axis": {"values": [0, 2, 4], "format": "d", "labelPadding": 5, "titlePadding": 6}},
            "x": {"field": "lo", "type": "quantitative", "title": null, "stack": null,
                  "scale": {"domain": [0.4, 2.6], "nice": false, "zero": false},
                  "axis": {"values": [1, 2], "labelExpr": "datum.value == 1 ? '2013-2016' : '2017-2022'", "labelPadding": 3}},
            "x2": {"field": "hi"},
            "fill": {"field": "periode", "type": "nominal",
                     "scale": {"domain": ["2013-2016", "2017-2022"], "range": ["#A8A8A8", "#4682B4"]},
                     "legend": null}
          }
        },
        {
          "data": {"name": "punkter_alle"},
          "mark": {"type": "circle", "size": 64, "color": "black", "opacity": 0.7},
          "encoding": {
            "x": {"field": "x", "type": "quantitative", "title": null},
            "y": {"field": "IPS", "type": "quantitative", "title": "IPS"}
          }
        },
        {
          "data": {"values": [{"IPS": 4.04}]},
          "mark": {"type": "rule", "color": "#FF0000", "strokeWidth": 2, "strokeDash": [9, 8]},
          "encoding": {"y": {"field": "IPS", "type": "quantitative", "title": "IPS"}}
        }
      ]
    },
    {"width": 81, "height": 597, "data": {"values": []}, "mark": "point", "encoding": {}},
    {
      "width": 467,
      "height": 597,
      "layer": [
        {
          "data": {"name": "violiner"},
          "transform": [{"filter": {"field": "panel", "equal": "9og10"}}],
          "mark": {"type": "area", "orient": "horizontal", "stroke": "#333333", "strokeWidth": 1.8, "strokeJoin": "round"},
          "encoding": {
            "y": {"field": "IPS", "type": "quantitative", "title": "IPS",
                  "scale": {"domain": [-0.275, 5.775], "nice": false, "zero": false},
                  "axis": {"values": [0, 2, 4], "format": "d", "labelPadding": 5, "titlePadding": 6}},
            "x": {"field": "lo", "type": "quantitative", "title": null, "stack": null,
                  "scale": {"domain": [0.4, 2.6], "nice": false, "zero": false},
                  "axis": {"values": [1, 2], "labelExpr": "datum.value == 1 ? '2013-2016' : '2017-2022'", "labelPadding": 3}},
            "x2": {"field": "hi"},
            "fill": {"field": "periode", "type": "nominal",
                     "scale": {"domain": ["2013-2016", "2017-2022"], "range": ["#A8A8A8", "#4682B4"]},
                     "legend": null}
          }
        },
        {
          "data": {"name": "punkter_9og10"},
          "mark": {"type": "circle", "size": 64, "opacity": 0.65},
          "encoding": {
            "x": {"field": "x", "type": "quantitative", "title": null},
            "y": {"field": "IPS", "type": "quantitative", "title": "IPS"},
            "color": {
              "field": "Søtype", "type": "nominal",
              "scale": {"domain": [9, 10], "range": ["#3B48A5", "#F5C800"]},
              "legend": {
                "orient": "none", "legendX": 1113, "legendY": 279, "padding": 0,
                "title": "Søtype", "titleFont": "Liberation Sans", "titleFontSize": 24, "titleFontWeight": "normal",
                "titleColor": "black", "titlePadding": 24,
                "labelFont": "Liberation Sans", "labelFontSize": 20, "labelColor": "black", "labelOffset": 16,
                "symbolType": "circle", "symbolSize": 64, "symbolOffset": 2, "symbolOpacity": 0.65,
                "symbolStrokeWidth": 0, "rowPadding": 22
              }
            }
          }
        },
        {
          "data": {"values": [{"IPS": 4.04}]},
          "mark": {"type": "rule", "color": "#FF0000", "strokeWidth": 2, "strokeDash": [9, 8]},
          "encoding": {"y": {"field": "IPS", "type": "quantitative", "title": "IPS"}}
        }
      ]
    },
    {"width": 200, "height": 597, "data": {"values": []}, "mark": "point", "encoding": {}},

    {"width": 1, "height": 144, "data": {"values": []}, "mark": "point", "encoding": {}, "view": {"stroke": "black", "strokeWidth": 1.5}},
    {"width": 67, "height": 144, "data": {"values": []}, "mark": "point", "encoding": {}},
    {"width": 467, "height": 144, "data": {"values": []}, "mark": "point", "encoding": {}},
    {"width": 81, "height": 144, "data": {"values": []}, "mark": "point", "encoding": {}},
    {"width": 467, "height": 144, "data": {"values": []}, "mark": "point", "encoding": {}},
    {"width": 200, "height": 144, "data": {"values": []}, "mark": "point", "encoding": {}},

    {
      "width": 1, "height": 1, "data": {"values": []}, "mark": "point", "encoding": {},
      "view": {"stroke": "black", "strokeWidth": 1.5},
      "title": {
        "text": "Figur 3.7.",
        "subtitle": [
          "og for type 9 og 10 alene (højre panel). De røde stiplede linjer angiver grænsen for IPS = 4,04 mellem god",
          "og moderat økologisk kvalitet ifølge bek. 792."
        ],
        "orient": "bottom",
        "anchor": "start",
        "dx": 4,
        "offset": 9,
        "fontWeight": "bold",
        "subtitlePadding": 2.5
      }
    },
    {"width": 67, "height": 1, "data": {"values": []}, "mark": "point", "encoding": {}, "view": {"stroke": "black", "strokeWidth": 1.5}},
    {
      "width": 467, "height": 1, "data": {"values": []}, "mark": "point", "encoding": {},
      "view": {"stroke": "black", "strokeWidth": 1.5},
      "title": {
        "text": "IPS-værdier for danske søer i perioderne 2013-2016 og 2017-2022 for alle søtyper (venstre panel)",
        "orient": "bottom",
        "anchor": "start",
        "dx": 64,
        "offset": 9,
        "fontWeight": "normal"
      }
    },
    {"width": 81, "height": 1, "data": {"values": []}, "mark": "point", "encoding": {}, "view": {"stroke": "black", "strokeWidth": 1.5}},
    {"width": 467, "height": 1, "data": {"values": []}, "mark": "point", "encoding": {}, "view": {"stroke": "black", "strokeWidth": 1.5}},
    {"width": 200, "height": 1, "data": {"values": []}, "mark": "point", "encoding": {}, "view": {"stroke": "black", "strokeWidth": 1.5}},

    {"width": 1, "height": 97, "data": {"values": []}, "mark": "point", "encoding": {}, "view": {"stroke": "black", "strokeWidth": 1.5}},
    {"width": 67, "height": 97, "data": {"values": []}, "mark": "point", "encoding": {}},
    {"width": 467, "height": 97, "data": {"values": []}, "mark": "point", "encoding": {}},
    {"width": 81, "height": 97, "data": {"values": []}, "mark": "point", "encoding": {}},
    {"width": 467, "height": 97, "data": {"values": []}, "mark": "point", "encoding": {}},
    {"width": 200, "height": 97, "data": {"values": []}, "mark": "point", "encoding": {}}
  ]
}
